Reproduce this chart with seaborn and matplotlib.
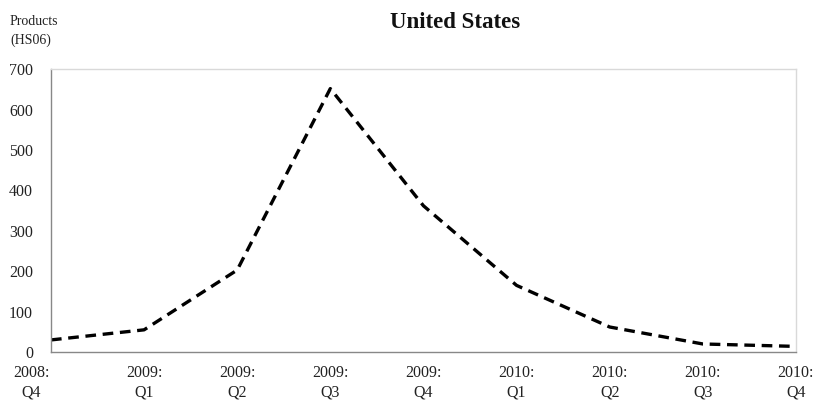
import pandas as pd
import seaborn as sns
import matplotlib.pyplot as plt
import matplotlib.transforms as mtransforms

# Quarterly counts of products (HS06)
quarters = ["2008:\nQ4", "2009:\nQ1", "2009:\nQ2", "2009:\nQ3", "2009:\nQ4",
            "2010:\nQ1", "2010:\nQ2", "2010:\nQ3", "2010:\nQ4"]
products = [30, 55, 203, 652, 362, 165, 62, 20, 14]

df = pd.DataFrame({"pos": range(len(quarters)), "products": products})

sns.set_theme(style="white")
plt.rcParams["font.family"] = ["Liberation Serif", "DejaVu Serif"]

fig = plt.figure(figsize=(8.18, 4.07), dpi=100)
ax = fig.add_axes([0.0623, 0.135, 0.9107, 0.695])

sns.lineplot(data=df, x="pos", y="products", ax=ax, color="black",
             linewidth=2.4, dashes=False)
ax.lines[0].set_dashes([3.2, 2.0])

ax.set_xlim(0, len(quarters) - 1)
ax.set_ylim(0, 700)
ax.set_yticks(range(0, 701, 100))
ax.set_xticks(range(len(quarters)))
ax.set_xticklabels(quarters, fontsize=11.5, color="#222222", linespacing=1.35)
ax.tick_params(axis="y", labelsize=11.5, labelcolor="#222222", pad=13, length=0)
ax.tick_params(axis="x", pad=9, length=0)
ax.set_xlabel("")
ax.set_ylabel("")

# the first category label sits left of the axis in the reference
first = ax.get_xticklabels()[0]
first.set_transform(first.get_transform() +
                    mtransforms.ScaledTranslation(-0.2, 0, fig.dpi_scale_trans))

for side in ["top", "right"]:
    ax.spines[side].set_color("#d9d9d9")
for side in ["left", "bottom"]:
    ax.spines[side].set_color("#888888")
for s in ax.spines.values():
    s.set_linewidth(1.0)

fig.text(455 / 818, 1 - 23 / 407, "United States", ha="center", va="center",
         fontsize=16.5, fontweight="bold", color="#111111")
fig.text(10 / 818, 1 - 31 / 407, "Products\n(HS06)", ha="left", va="center",
         fontsize=10, color="#222222", linespacing=1.6)

plt.savefig("out.png", dpi=100)
